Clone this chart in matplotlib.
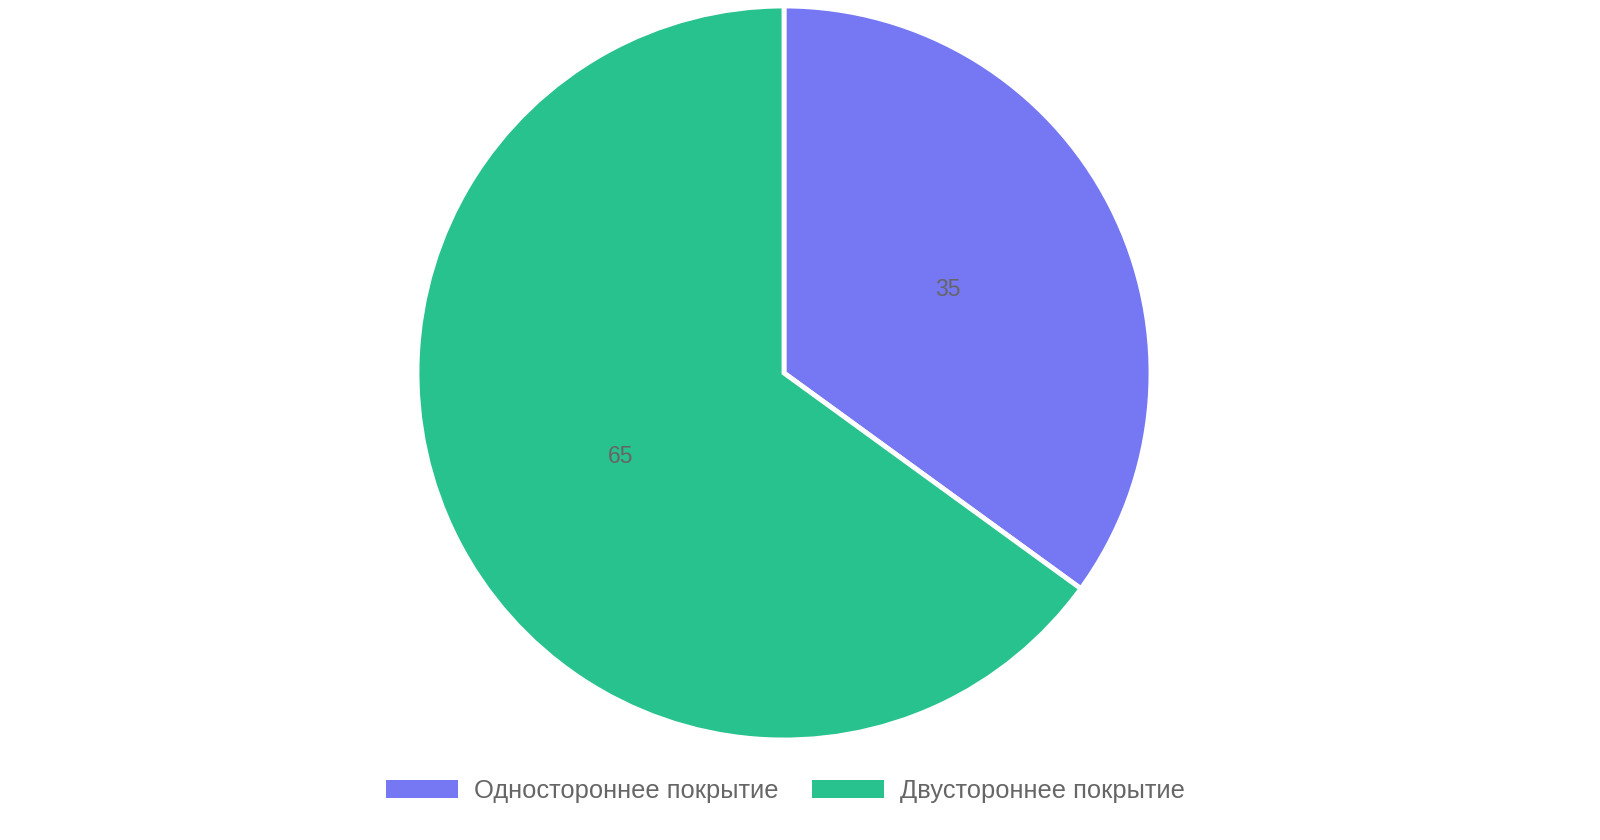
import matplotlib
matplotlib.use("Agg")
import matplotlib.pyplot as plt
from matplotlib.patches import Patch

# ----------------------------------
# DATA
# ----------------------------------

labels = ["Одностороннее покрытие", "Двустороннее покрытие"]
values = [35, 65]
colors = ["#7577F3", "#28C28F"]

TEXT_COLOR = "#666666"
FONT = ["Liberation Sans", "DejaVu Sans"]

plt.rcParams["font.family"] = FONT

# ----------------------------------
# PLOT
# ----------------------------------

W, H = 1600, 840
cx, cy, r = 784, 373, 367

fig = plt.figure(figsize=(W / 100, H / 100), dpi=100)
ax = fig.add_axes([(cx - r) / W, (H - cy - r) / H, 2 * r / W, 2 * r / H])

wedges, texts = ax.pie(
    values,
    colors=colors,
    startangle=90,
    counterclock=False,
    labels=[str(v) for v in values],
    labeldistance=0.5,
    wedgeprops=dict(edgecolor="white", linewidth=3.5),
    textprops=dict(color=TEXT_COLOR, fontsize=16.5),
)
for t in texts:
    t.set_horizontalalignment("center")
    t.set_verticalalignment("center")

ax.set_xlim(-1, 1)
ax.set_ylim(-1, 1)
ax.set_aspect("equal")
ax.axis("off")

handles = [Patch(facecolor=c, edgecolor="none") for c in colors]
fig.legend(
    handles, labels,
    loc="center", bbox_to_anchor=(785.5 / W, 1 - 791 / H),
    ncol=2, frameon=False,
    fontsize=18.4, labelcolor=TEXT_COLOR,
    handlelength=2.8, handleheight=0.74,
    handletextpad=0.63, columnspacing=1.33,
)

fig.savefig("out.png", dpi=100)
plt.close(fig)
